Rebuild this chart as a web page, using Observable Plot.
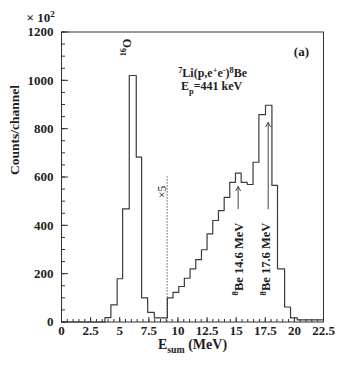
<!DOCTYPE html>
<html>
<head>
<meta charset="utf-8">
<script src="https://cdn.jsdelivr.net/npm/d3@7"></script>
<script src="https://cdn.jsdelivr.net/npm/@observablehq/plot@0.6"></script>
<style>
  html, body { margin: 0; padding: 0; background: #fff; }
  #chart svg { display: block; }
</style>
</head>
<body>
<div id="chart"></div>
<script>
// Histogram bins (lower edges, MeV) and counts per channel
const binStart = [0, 3.73, 4.24, 4.78, 5.25, 5.82, 6.42, 6.88, 7.40, 7.97,
  9.09, 9.58, 10.07, 10.55, 11.04, 11.53, 12.02, 12.50, 12.99, 13.48, 13.97, 14.45,
  14.94, 15.43, 15.95, 16.45, 16.95, 17.52, 18.07, 18.55, 19.16, 19.67, 20.25];
const counts = [0, 18, 71, 179, 468, 1020, 682, 100, 40, 17,
  100, 123, 147, 181, 220, 258, 299, 365, 420, 461, 516, 578,
  616, 578, 569, 661, 858, 897, 565, 220, 62, 17, 9];
const xEnd = 22.5;

// Axis ticks
const xMajor = [0, 2.5, 5, 7.5, 10, 12.5, 15, 17.5, 20, 22.5];
const xMinor = d3.range(0, 22.51, 0.5);
const yMajor = [0, 200, 400, 600, 800, 1000, 1200];
const yMinor = d3.range(0, 1201, 50);

// Scale marker (x5) line
const scaleLineX = [9.07];
const scaleLineTop = [600];

// Arrows marking 8Be transitions
const arrowX = [15.17, 17.75];
const arrowFrom = [469, 468];
const arrowTo = [560, 825];

// Annotations
const labelsFlat = [
  {x: 10.02, y: 1028, text: "^{7}Li(p,e^{+}e^{-})^{8}Be", anchor: "start"},
  {x: 10.27, y: 974, text: "E_{p}=441 keV", anchor: "start"},
  {x: 20.6, y: 1120, text: "(a)", anchor: "middle"}
];
const labelsUp = [
  {x: 15.22, y: 110, text: "^{8}Be 14.6 MeV"},
  {x: 17.59, y: 110, text: "^{8}Be 17.6 MeV"}
];
const labelO = [{x: 5.62, y: 1136, text: "^{16}O"}];
const labelScale = [{x: 8.69, y: 538, text: "×5"}];

const histPts = binStart.map((x, i) => ({x, y: counts[i]}));
histPts.push({x: xEnd, y: counts[counts.length - 1]});

const fmt = d => String(d);

// inward tick symbols (pixel lengths are styling)
const tickUp = len => ({draw(ctx) { ctx.moveTo(0, 0); ctx.lineTo(0, -len); }});
const tickRight = len => ({draw(ctx) { ctx.moveTo(0, 0); ctx.lineTo(len, 0); }});

const plot = Plot.plot({
  width: 341,
  height: 366,
  marginLeft: 61,
  marginRight: 18,
  marginTop: 31.5,
  marginBottom: 44.5,
  x: {domain: [0, 22.5]},
  y: {domain: [0, 1200]},
  style: {fontFamily: "'Liberation Serif', 'DejaVu Serif', serif", fontSize: "13px", fontWeight: "bold", background: "#fff", color: "#1e1e1e"},
  marks: [
    Plot.axisX(xMajor, {anchor: "bottom", tickSize: 0, tickPadding: 3.5, tickFormat: fmt, label: null, fontSize: 13}),
    Plot.axisY(yMajor, {anchor: "left", tickSize: 0, tickPadding: 8, tickFormat: fmt, label: null, fontSize: 13}),
    Plot.dot(xMinor, {x: d => d, y: () => 0, symbol: tickUp(3), stroke: "#333", strokeWidth: 1, fill: "none"}),
    Plot.dot(xMajor, {x: d => d, y: () => 0, symbol: tickUp(5), stroke: "#333", strokeWidth: 1, fill: "none"}),
    Plot.dot(yMinor, {x: () => 0, y: d => d, symbol: tickRight(3.5), stroke: "#333", strokeWidth: 1, fill: "none"}),
    Plot.dot(yMajor, {x: () => 0, y: d => d, symbol: tickRight(6.5), stroke: "#333", strokeWidth: 1, fill: "none"}),
    Plot.ruleX(scaleLineX, {x: d => d, y1: 0, y2: (d, i) => scaleLineTop[i], stroke: "#333", strokeDasharray: "1.2,1.8", strokeWidth: 1}),
    Plot.line(histPts, {x: "x", y: "y", curve: "step-after", stroke: "#3a3a3a", strokeWidth: 1.2}),
    Plot.arrow(arrowX, {x1: d => d, x2: d => d, y1: (d, i) => arrowFrom[i], y2: (d, i) => arrowTo[i], bend: 0, headLength: 7, stroke: "#444", strokeWidth: 1}),
    Plot.text(labelsFlat, {x: "x", y: "y", text: "text", textAnchor: "start", fontSize: 12, fill: "#1e1e1e", filter: d => d.anchor === "start"}),
    Plot.text(labelsFlat, {x: "x", y: "y", text: "text", textAnchor: "middle", fontSize: 13, fill: "#1e1e1e", filter: d => d.anchor === "middle"}),
    Plot.text(labelsUp, {x: "x", y: "y", text: "text", rotate: -90, textAnchor: "start", fontSize: 12.5, fill: "#1e1e1e"}),
    Plot.text(labelO, {x: "x", y: "y", text: "text", rotate: -90, textAnchor: "middle", fontSize: 12, fill: "#1e1e1e"}),
    Plot.text(labelScale, {x: "x", y: "y", text: "text", rotate: -90, textAnchor: "middle", fontSize: 11.5, fontWeight: "normal", fill: "#1e1e1e"}),
    Plot.frame({stroke: "#333", strokeWidth: 1}),
    // axis titles
    Plot.text(["Counts/channel"], {frameAnchor: "left", dx: -47, dy: -2, rotate: -90, fontSize: 13.5, fill: "#1e1e1e"}),
    Plot.text(["E_{sum} (MeV)"], {frameAnchor: "bottom", dy: 27, fontSize: 14, fill: "#1e1e1e"}),
    Plot.text(["× 10^{2}"], {frameAnchor: "top-left", dx: -35, dy: -19, textAnchor: "start", fontSize: 13, fill: "#1e1e1e"})
  ]
});

document.getElementById("chart").appendChild(plot);

// Rich text: ^{..} superscript, _{..} subscript (shifted with dy, then restored)
plot.querySelectorAll("text").forEach(t => {
  const s = t.textContent;
  if (!/[\^_]\{/.test(s)) return;
  const fs = parseFloat(getComputedStyle(t).fontSize) || 12;
  while (t.firstChild) t.removeChild(t.firstChild);
  const re = /([\^_])\{([^}]*)\}|([^\^_]+)/g;
  let m, pending = 0;
  while ((m = re.exec(s))) {
    const sp = document.createElementNS("http://www.w3.org/2000/svg", "tspan");
    if (m[1]) {
      const shift = m[1] === "^" ? -0.38 * fs : 0.26 * fs;
      sp.textContent = m[2];
      sp.setAttribute("font-size", (0.7 * fs).toFixed(2) + "px");
      sp.setAttribute("dy", (shift + pending).toFixed(2));
      pending = -shift;
    } else {
      sp.textContent = m[3];
      if (pending) sp.setAttribute("dy", pending.toFixed(2));
      pending = 0;
    }
    t.appendChild(sp);
  }
});
</script>
</body>
</html>
